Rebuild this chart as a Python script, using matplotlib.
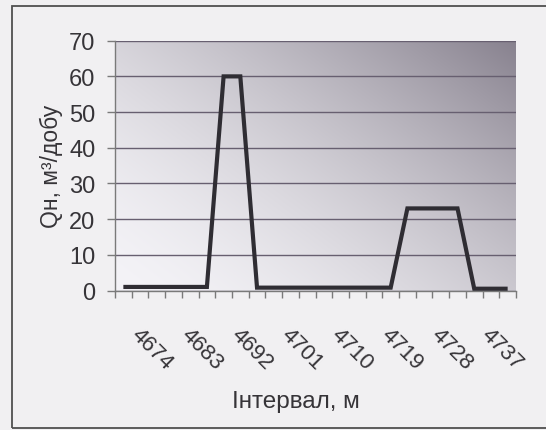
import numpy as np
import matplotlib
matplotlib.use("Agg")
import matplotlib.pyplot as plt
from matplotlib.patches import Rectangle
from matplotlib.transforms import ScaledTranslation, blended_transform_factory

# ---- data ----
depth = [4674, 4677, 4680, 4683, 4686, 4689, 4692, 4695, 4698, 4701, 4704, 4707,
         4710, 4713, 4716, 4719, 4722, 4725, 4728, 4731, 4734, 4737, 4740, 4743]
qn = [1.0, 1.0, 1.0, 1.0, 1.0, 1.0, 60, 60, 0.8, 0.8, 0.8, 0.8,
      0.8, 0.8, 0.8, 0.8, 0.8, 23, 23, 23, 23, 0.5, 0.5, 0.5]
tick_depths = [4674, 4683, 4692, 4701, 4710, 4719, 4728, 4737]
y_ticks = [0, 10, 20, 30, 40, 50, 60, 70]
x_title = "Інтервал, м"
y_title = "Qн, м³/добу"

plt.rcParams['font.family'] = ['Liberation Sans', 'DejaVu Sans']
TXT = '#363438'

W, H = 546, 431
fig = plt.figure(figsize=(W / 100, H / 100), dpi=100, facecolor='#f1f0f2')

# outer chart frame
fig.patches.append(Rectangle((12 / W, 2.5 / H), 1.0, (428.5 - 7) / H,
                             transform=fig.transFigure, fill=False,
                             edgecolor='#505050', lw=1.3, zorder=0))

ax = fig.add_axes([115 / W, (H - 291.5) / H, 401 / W, (291.5 - 41.7) / H])

# gradient plot-area fill (light bottom-left -> dark top-right)
nx, ny = 200, 120
gx, gy = np.meshgrid(np.linspace(0, 1, nx), np.linspace(0, 1, ny))
LIGHT = np.array([244, 243, 247]) / 255
DARK = np.array([136, 130, 143]) / 255
w = (gx * 0.55 + gy * 0.45) ** 1.6
grad = LIGHT + (DARK - LIGHT) * w[..., None]
ax.imshow(grad, extent=[0, 1, 0, 1], transform=ax.transAxes, origin='lower',
          aspect='auto', zorder=0, interpolation='bilinear')

x = np.arange(len(depth))
ax.plot(x, qn, color='#2f2d33', lw=3.0, zorder=3, solid_joinstyle='miter',
        solid_capstyle='butt', clip_on=False)

ax.set_xlim(-0.5, len(depth) - 0.5)
ax.set_ylim(0, 70)

# grid
ax.set_yticks(y_ticks)
ax.set_yticklabels([str(v) for v in y_ticks], fontsize=17, color=TXT)
ax.yaxis.grid(True, color='#675f70', lw=1.0, zorder=1)
ax.set_axisbelow(True)
ax.tick_params(axis='y', direction='out', length=6, width=1.0, color='#7a7a7a', pad=8)

# x ticks at category boundaries
ax.set_xticks(np.arange(-0.5, len(depth), 1.0))
ax.set_xticklabels([])
ax.tick_params(axis='x', direction='out', length=5, width=1.0, color='#7a7a7a')

for s in ['top', 'right']:
    ax.spines[s].set_visible(False)
for s in ['left', 'bottom']:
    ax.spines[s].set_color('#7a7a7a')
    ax.spines[s].set_linewidth(1.0)

# rotated category labels
btr = blended_transform_factory(ax.transData, ax.transAxes)
off = ScaledTranslation(18 / 100, -33 / 100, fig.dpi_scale_trans)
for d in tick_depths:
    i = depth.index(d)
    ax.text(i, 0, str(d), transform=btr + off, rotation=-45, rotation_mode='anchor',
            ha='left', va='top', fontsize=16, color=TXT, clip_on=False)

fig.text(296 / W, 1 - 402 / H, x_title, ha='center', va='center', fontsize=17.5, color=TXT)
fig.text(51 / W, 1 - 166 / H, y_title, ha='center', va='center', rotation=90,
         fontsize=16.5, color=TXT)

fig.savefig('out.png', dpi=100, facecolor=fig.get_facecolor())
